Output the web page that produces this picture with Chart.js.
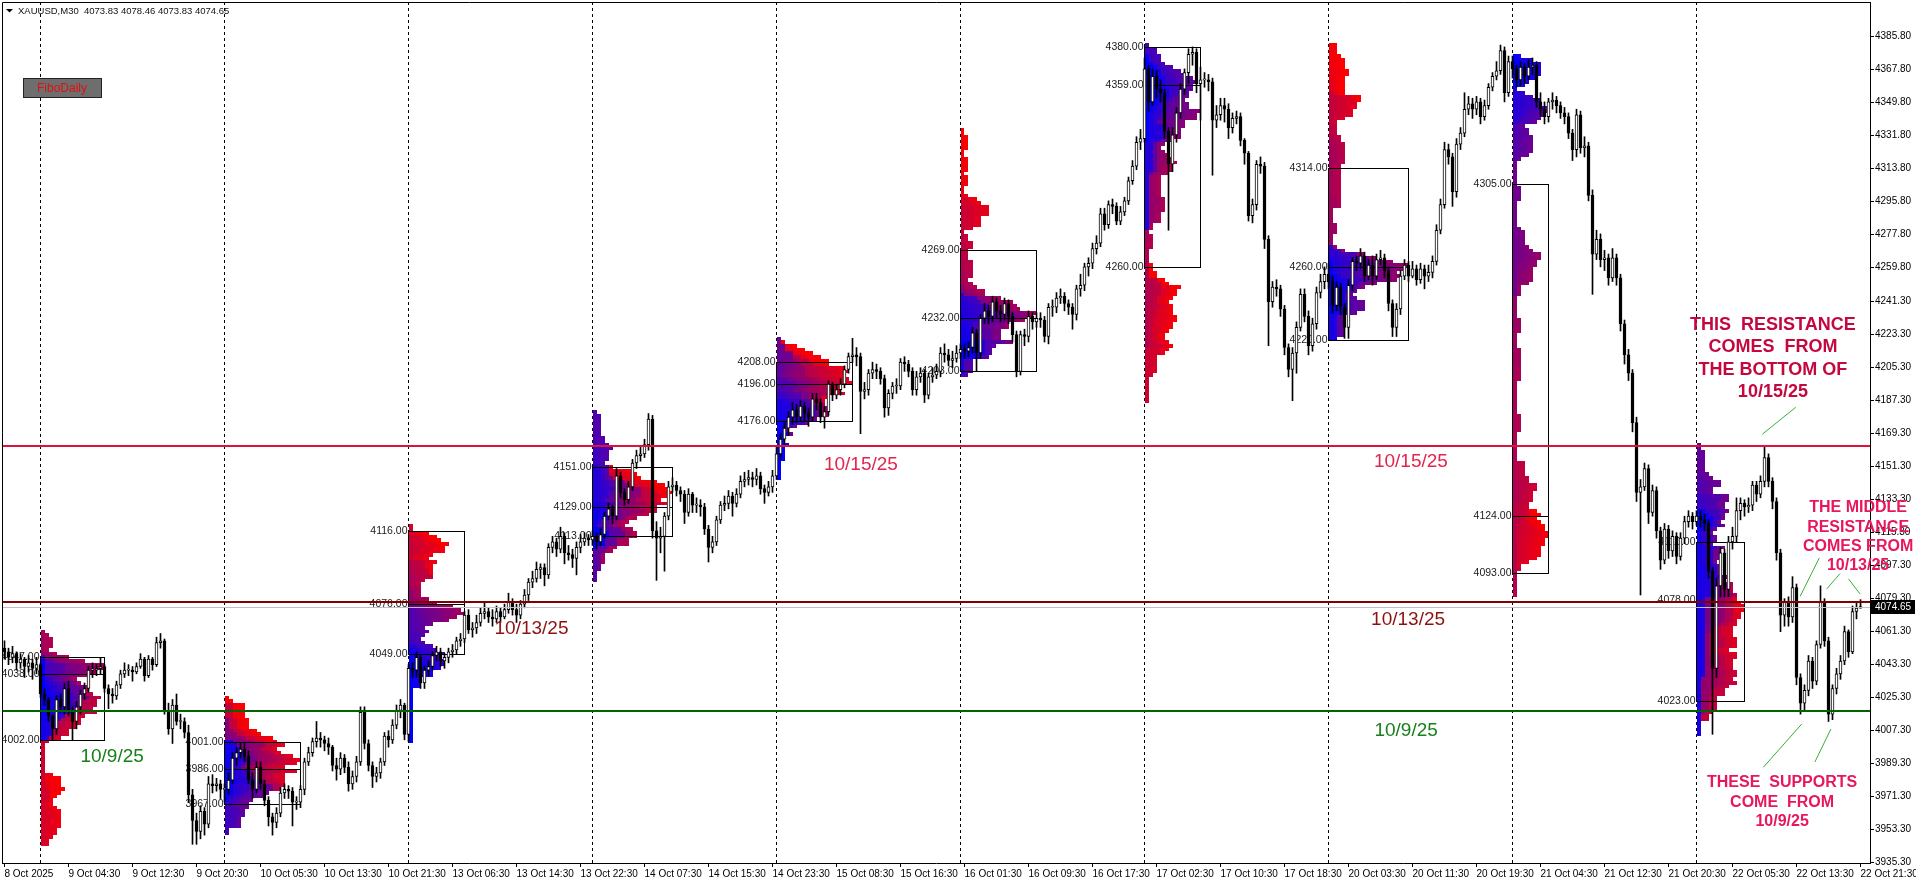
<!DOCTYPE html>
<html lang="en">
<head>
<meta charset="UTF-8">
<title>XAUUSD,M30</title>
<script src="https://cdn.jsdelivr.net/npm/chart.js"></script>
<style>
  html, body { margin: 0; padding: 0; background: #fff; }
  #wrap { width: 1916px; height: 885px; }
</style>
</head>
<body>
<div id="wrap"><canvas id="chart" width="1916" height="885"></canvas></div>
<script>
// ---- M30 candles (bar 0 = 8 Oct 20:30) ----
const firstOpen = 4052;
const closes = [
  // 8 Oct
  4050, 4047, 4049, 4044, 4046, 4042, 4044, 4041, 4043,
  // 9 Oct
  4027, 4024, 4015, 4008, 4024, 4020, 4030, 4018, 4012, 4020, 4027, 4030, 4040, 4040, 4041, 4042,
  4030, 4027, 4026, 4032, 4038, 4040, 4040, 4039, 4042, 4046, 4037, 4046, 4043, 4055, 4056, 4018,
  4008, 4021, 4012, 4012, 4006, 3972, 3958, 3952, 3963, 3956, 3978, 3977, 3978, 3975,
  // 10 Oct
  3975, 3980, 3992, 3995, 3997, 3993, 3980, 3975, 3987, 3978, 3969, 3960, 3957, 3962, 3973, 3975,
  3974, 3968, 3968, 3975, 3990, 3995, 4001, 4003, 4002, 4000, 3998, 3988, 3986, 3992, 3987, 3978,
  3982, 3990, 4017, 4000, 3988, 3982, 3984, 3990, 4004, 4002, 4010, 4018, 4021, 4005,
  // 13 Oct
  4041, 4040, 4047, 4033, 4040, 4042, 4048, 4050, 4045, 4047, 4050, 4051, 4056, 4057, 4070, 4062,
  4063, 4066, 4071, 4072, 4069, 4068, 4072, 4069, 4073, 4077, 4073, 4070, 4076, 4081, 4088, 4090,
  4095, 4096, 4092, 4107, 4110, 4106, 4113, 4104, 4103, 4101, 4107, 4110, 4112, 4111,
  // 14 Oct
  4113, 4110, 4114, 4124, 4128, 4124, 4146, 4137, 4133, 4140, 4153, 4157, 4158, 4163, 4177, 4116,
  4112, 4113, 4124, 4140, 4141, 4138, 4136, 4126, 4136, 4130, 4130, 4129, 4117, 4107, 4110, 4122,
  4130, 4131, 4135, 4131, 4136, 4143, 4144, 4145, 4144, 4146, 4139, 4137, 4140, 4146,
  // 15 Oct
  4158, 4166, 4172, 4178, 4182, 4178, 4184, 4180, 4178, 4188, 4186, 4178, 4181, 4196, 4190, 4193,
  4196, 4204, 4211, 4212, 4211, 4192, 4193, 4202, 4204, 4203, 4199, 4183, 4191, 4195, 4195, 4208,
  4207, 4203, 4193, 4200, 4202, 4190, 4200, 4201, 4203, 4213, 4212, 4209, 4210, 4213,
  // 16 Oct
  4215, 4214, 4216, 4224, 4213, 4232, 4236, 4233, 4241, 4236, 4234, 4240, 4233, 4223, 4203, 4223,
  4222, 4233, 4230, 4232, 4231, 4222, 4238, 4238, 4243, 4244, 4240, 4238, 4234, 4248, 4250, 4260,
  4262, 4270, 4273, 4289, 4283, 4294, 4293, 4285, 4290, 4296, 4307, 4315, 4328, 4330,
  // 17 Oct
  4368, 4350, 4364, 4357, 4355, 4334, 4316, 4332, 4344, 4357, 4366, 4376, 4377, 4360, 4362, 4362,
  4361, 4340, 4343, 4348, 4346, 4336, 4341, 4342, 4329, 4322, 4288, 4294, 4316, 4315, 4275, 4241,
  4249, 4248, 4237, 4216, 4204, 4213, 4227, 4245, 4233, 4217, 4229, 4246, 4252, 4256,
  // 20 Oct
  4252, 4239, 4249, 4238, 4227, 4250, 4263, 4262, 4266, 4255, 4261, 4255, 4264, 4265, 4258, 4240,
  4227, 4237, 4255, 4261, 4255, 4259, 4253, 4259, 4255, 4257, 4263, 4280, 4294, 4324, 4320, 4301,
  4327, 4333, 4346, 4349, 4346, 4350, 4342, 4348, 4358, 4364, 4367, 4378, 4355, 4372,
  // 21 Oct
  4368, 4362, 4369, 4364, 4369, 4370, 4350, 4346, 4342, 4350, 4351, 4348, 4344, 4342, 4333, 4324,
  4343, 4325, 4326, 4299, 4267, 4275, 4264, 4265, 4254, 4265, 4254, 4229, 4212, 4202, 4175, 4137,
  4140, 4150, 4126, 4138, 4116, 4100, 4117, 4105, 4113, 4102, 4112, 4121, 4124, 4121,
  // 22 Oct
  4124, 4122, 4120, 4094, 4041, 4086, 4104, 4084, 4110, 4113, 4127, 4131, 4129, 4130, 4141, 4136,
  4143, 4156, 4143, 4132, 4104, 4070, 4077, 4069, 4085, 4036, 4022, 4029, 4045, 4034, 4054, 4077,
  4056, 4016, 4030, 4038, 4045, 4061, 4050, 4072, 4073.83, 4074.65
];
const highs = [
  4056, 4052, 4053, 4050, 4049, 4047, 4048, 4046, 4047,
  4044, 4030, 4025, 4016, 4026, 4027, 4033, 4034, 4020, 4023, 4029, 4033, 4042, 4044, 4043, 4047,
  4043, 4032, 4030, 4034, 4040, 4044, 4043, 4042, 4044, 4049, 4047, 4048, 4047, 4058, 4060, 4057,
  4022, 4024, 4027, 4016, 4014, 4010, 3975, 3962, 3966, 3965, 3982, 3983, 3981, 3980,
  3978, 3984, 3995, 3998, 4000, 4000, 3996, 3984, 3990, 3990, 3980, 3971, 3962, 3965, 3976, 3978,
  3977, 3976, 3971, 3977, 3992, 3998, 4003, 4012, 4006, 4004, 4003, 3999, 3992, 3995, 3994, 3990,
  3985, 3993, 4020, 4020, 4002, 3990, 3987, 3992, 4006, 4007, 4013, 4021, 4024, 4022,
  4043, 4044, 4050, 4048, 4042, 4045, 4050, 4053, 4052, 4049, 4052, 4054, 4058, 4060, 4072, 4073,
  4066, 4070, 4074, 4077, 4074, 4073, 4075, 4074, 4076, 4082, 4079, 4076, 4078, 4084, 4090, 4094,
  4099, 4098, 4098, 4109, 4113, 4112, 4118, 4115, 4108, 4106, 4110, 4114, 4115, 4114,
  4116, 4115, 4117, 4126, 4131, 4130, 4150, 4148, 4139, 4143, 4155, 4160, 4162, 4166, 4180, 4179,
  4121, 4118, 4126, 4143, 4145, 4143, 4140, 4138, 4139, 4137, 4134, 4133, 4131, 4119, 4113, 4124,
  4132, 4135, 4138, 4137, 4139, 4146, 4148, 4149, 4148, 4150, 4148, 4141, 4143, 4149,
  4162, 4169, 4175, 4181, 4186, 4185, 4187, 4186, 4183, 4191, 4191, 4188, 4184, 4198, 4197, 4196,
  4199, 4206, 4213, 4221, 4216, 4213, 4197, 4204, 4208, 4207, 4205, 4201, 4193, 4197, 4199, 4210,
  4211, 4209, 4205, 4203, 4205, 4204, 4202, 4205, 4207, 4216, 4218, 4215, 4214, 4217,
  4218, 4218, 4219, 4227, 4226, 4234, 4240, 4239, 4244, 4243, 4239, 4243, 4242, 4235, 4225, 4225,
  4226, 4236, 4235, 4235, 4235, 4233, 4240, 4242, 4246, 4248, 4246, 4242, 4240, 4250, 4256, 4262,
  4265, 4273, 4277, 4292, 4292, 4296, 4297, 4295, 4293, 4298, 4309, 4318, 4331, 4335,
  4374, 4370, 4368, 4367, 4362, 4357, 4336, 4336, 4347, 4360, 4368, 4379, 4380, 4379, 4369, 4366,
  4365, 4363, 4348, 4352, 4352, 4349, 4344, 4345, 4344, 4330, 4323, 4297, 4318, 4320, 4317, 4277,
  4252, 4253, 4250, 4239, 4218, 4216, 4230, 4248, 4248, 4236, 4232, 4249, 4256, 4260,
  4262, 4255, 4252, 4251, 4240, 4253, 4265, 4266, 4270, 4268, 4264, 4266, 4267, 4269, 4267, 4260,
  4242, 4240, 4258, 4264, 4263, 4263, 4261, 4262, 4261, 4261, 4266, 4283, 4297, 4328, 4327, 4322,
  4330, 4336, 4355, 4353, 4352, 4353, 4352, 4351, 4360, 4366, 4372, 4381, 4380, 4375,
  4375, 4370, 4372, 4371, 4373, 4374, 4372, 4355, 4350, 4352, 4355, 4353, 4350, 4347, 4344, 4335,
  4346, 4345, 4331, 4328, 4302, 4280, 4278, 4269, 4267, 4270, 4267, 4256, 4231, 4215, 4204, 4178,
  4144, 4153, 4152, 4141, 4140, 4118, 4120, 4119, 4116, 4115, 4115, 4124, 4127, 4126,
  4127, 4127, 4125, 4122, 4096, 4090, 4107, 4106, 4113, 4118, 4134, 4134, 4133, 4134, 4143, 4143,
  4146, 4162, 4158, 4145, 4134, 4106, 4079, 4080, 4091, 4087, 4038, 4032, 4048, 4047, 4056, 4086,
  4079, 4058, 4032, 4041, 4048, 4064, 4062, 4075, 4077, 4078.46
];
const lows = [
  4046, 4043, 4044, 4040, 4041, 4036, 4039, 4035, 4038,
  4025, 4021, 4012, 4002, 4005, 4017, 4016, 4015, 4002, 4008, 4016, 4024, 4028, 4036, 4037, 4038,
  4028, 4019, 4022, 4024, 4030, 4036, 4037, 4034, 4038, 4041, 4034, 4036, 4040, 4042, 4052, 4016,
  4005, 4000, 4010, 4008, 4003, 3968, 3945, 3945, 3948, 3950, 3954, 3973, 3974, 3970,
  3968, 3972, 3978, 3988, 3992, 3990, 3978, 3970, 3973, 3975, 3966, 3955, 3950, 3954, 3960, 3970,
  3970, 3955, 3964, 3965, 3972, 3988, 3993, 3998, 3998, 3996, 3994, 3985, 3980, 3983, 3984, 3974,
  3975, 3979, 3988, 3997, 3985, 3976, 3979, 3981, 3988, 3998, 4000, 4008, 4014, 4002,
  4001, 4036, 4036, 4030, 4030, 4037, 4040, 4045, 4042, 4041, 4044, 4047, 4049, 4053, 4055, 4060,
  4058, 4060, 4064, 4068, 4066, 4064, 4066, 4066, 4068, 4071, 4070, 4066, 4068, 4074, 4078, 4085,
  4088, 4090, 4086, 4090, 4104, 4102, 4104, 4098, 4100, 4096, 4092, 4104, 4108, 4108,
  4108, 4106, 4108, 4112, 4122, 4120, 4122, 4134, 4130, 4131, 4138, 4150, 4154, 4156, 4160, 4112,
  4089, 4104, 4094, 4122, 4137, 4135, 4132, 4120, 4124, 4126, 4126, 4124, 4114, 4099, 4104, 4108,
  4120, 4127, 4128, 4124, 4129, 4134, 4140, 4141, 4140, 4141, 4136, 4131, 4135, 4137,
  4144, 4155, 4163, 4168, 4174, 4175, 4176, 4176, 4173, 4176, 4182, 4175, 4172, 4179, 4187, 4188,
  4190, 4194, 4202, 4208, 4206, 4169, 4188, 4190, 4199, 4199, 4196, 4178, 4179, 4188, 4191, 4193,
  4203, 4200, 4190, 4190, 4197, 4186, 4188, 4197, 4199, 4200, 4208, 4206, 4205, 4208,
  4210, 4210, 4211, 4213, 4203, 4210, 4229, 4229, 4230, 4232, 4230, 4231, 4229, 4219, 4200, 4201,
  4217, 4219, 4226, 4227, 4227, 4219, 4218, 4233, 4235, 4240, 4236, 4234, 4226, 4231, 4244, 4247,
  4255, 4259, 4267, 4271, 4280, 4281, 4289, 4283, 4283, 4288, 4294, 4305, 4313, 4324,
  4328, 4345, 4348, 4352, 4350, 4330, 4280, 4312, 4328, 4341, 4354, 4360, 4370, 4355, 4340, 4358,
  4356, 4310, 4336, 4340, 4339, 4330, 4333, 4338, 4326, 4316, 4285, 4284, 4291, 4311, 4270, 4217,
  4238, 4244, 4233, 4212, 4200, 4187, 4202, 4225, 4230, 4212, 4214, 4226, 4243, 4248,
  4248, 4235, 4236, 4234, 4221, 4221, 4247, 4258, 4259, 4252, 4253, 4250, 4253, 4261, 4254, 4236,
  4222, 4222, 4234, 4253, 4252, 4254, 4250, 4251, 4248, 4252, 4254, 4261, 4278, 4292, 4316, 4293,
  4298, 4324, 4331, 4343, 4341, 4343, 4338, 4340, 4346, 4356, 4362, 4365, 4350, 4353,
  4363, 4358, 4359, 4360, 4362, 4365, 4347, 4342, 4338, 4339, 4346, 4344, 4341, 4338, 4330, 4318,
  4320, 4322, 4320, 4296, 4245, 4264, 4260, 4258, 4250, 4252, 4250, 4225, 4207, 4198, 4170, 4132,
  4081, 4138, 4120, 4124, 4112, 4095, 4098, 4101, 4102, 4098, 4100, 4109, 4118, 4117,
  4119, 4118, 4116, 4090, 4005, 4036, 4080, 4080, 4080, 4106, 4110, 4122, 4124, 4126, 4127, 4132,
  4134, 4140, 4140, 4128, 4100, 4061, 4064, 4064, 4066, 4032, 4016, 4018, 4026, 4030, 4032, 4052,
  4053, 4012, 4013, 4027, 4035, 4043, 4047, 4049, 4068, 4073.83
];

// time axis labels, one every 16 bars
const xTickLabels = [
  '8 Oct 2025', '9 Oct 04:30', '9 Oct 12:30', '9 Oct 20:30', '10 Oct 05:30', '10 Oct 13:30',
  '10 Oct 21:30', '13 Oct 06:30', '13 Oct 14:30', '13 Oct 22:30', '14 Oct 07:30', '14 Oct 15:30',
  '14 Oct 23:30', '15 Oct 08:30', '15 Oct 16:30', '16 Oct 01:30', '16 Oct 09:30', '16 Oct 17:30',
  '17 Oct 02:30', '17 Oct 10:30', '17 Oct 18:30', '20 Oct 03:30', '20 Oct 11:30', '20 Oct 19:30',
  '21 Oct 04:30', '21 Oct 12:30', '21 Oct 20:30', '22 Oct 05:30', '22 Oct 13:30', '22 Oct 21:30'
];
const xTickStep = 16;
const yTickValues = [
  4385.8, 4367.8, 4349.8, 4331.8, 4313.8, 4295.8, 4277.8, 4259.8, 4241.3, 4223.3, 4205.3, 4187.3,
  4169.3, 4151.3, 4133.3, 4115.3, 4097.3, 4079.3, 4061.3, 4043.3, 4025.3, 4007.3, 3989.3, 3971.3,
  3953.3, 3935.3
];

// daily market profiles: first bar of each session and its value area
const dayStarts = [9, 55, 101, 147, 193, 239, 285, 331, 377, 423];
const vah = [4047, 4001, 4116, 4151, 4208, 4269, 4380, 4314, 4305, 4110];
const poc = [4038, 3986, 4076, 4129, 4196, 4232, 4359, 4260, 4124, 4078];
const val = [4002, 3967, 4049, 4113, 4176, 4203, 4260, 4220, 4093, 4023];
const rowStep = 2;

// horizontal levels drawn by the author
const levelPrices = [4162.3, 4077, 4017.9];
const levelColors = ['#dc143c', '#800000', '#006400'];

const opens = closes.map((c, i) => i === 0 ? firstOpen : closes[i - 1]);
const last = closes.length - 1;
const bid = closes[last];

// annotations, in bar / price units
const dateNotes = [
  { text: '10/9/25', bar: 26.9, price: 3992.6, color: '#17801a' },
  { text: '10/13/25', bar: 131.75, price: 4062.4, color: '#8b1212' },
  { text: '10/15/25', bar: 214.1, price: 4152.2, color: '#e3244d' },
  { text: '10/15/25', bar: 351.6, price: 4153.6, color: '#e3244d' },
  { text: '10/13/25', bar: 350.9, price: 4067.4, color: '#8b1212' },
  { text: '10/9/25', bar: 350.4, price: 4006.8, color: '#17801a' }
];
const noteBlocks = [
  { lines: ['THIS  RESISTANCE', 'COMES  FROM', 'THE BOTTOM OF', '10/15/25'], bar: 442.1, price: 4228.3, size: 18, step: 22.3, color: '#c4083f' },
  { lines: ['THE MIDDLE', 'RESISTANCE', 'COMES FROM', '10/13/25'], bar: 463.4, price: 4128.5, size: 16, step: 19.3, color: '#e8175d' },
  { lines: ['THESE  SUPPORTS', 'COME  FROM', '10/9/25'], bar: 444.4, price: 3978.4, size: 16, step: 19.3, color: '#e8175d' }
];
const pointerLines = [
  [447.8, 4183.4, 439.45, 4168.7],
  [453.7, 4101.2, 448.9, 4080.2],
  [458.9, 4092.7, 455.55, 4084.3],
  [461.0, 4089.8, 463.9, 4081.5],
  [449.3, 4010.6, 439.7, 3987.0],
  [456.6, 4007.9, 452.6, 3989.9]
];

const FONT = '"Liberation Sans", Arial, sans-serif';

const background = {
  id: 'background',
  beforeDraw(chart) {
    const ctx = chart.ctx;
    ctx.save();
    ctx.fillStyle = '#ffffff';
    ctx.fillRect(0, 0, chart.width, chart.height);
    ctx.restore();
  }
};

// profiles, value-area boxes, session separators (under the candles)
const profiles = {
  id: 'profiles',
  beforeDatasetsDraw(chart) {
    const ctx = chart.ctx, xs = chart.scales.x, ys = chart.scales.y, a = chart.chartArea;
    ctx.save();
    ctx.beginPath();
    ctx.rect(a.left, a.top, a.right - a.left, a.bottom - a.top);
    ctx.clip();

    const widths = [];
    dayStarts.forEach((s, d) => {
      const e = d + 1 < dayStarts.length ? dayStarts[d + 1] : closes.length;
      const counts = {};
      let widest = 0;
      for (let i = s; i < e; i++) {
        const t = (i - s) / 45;
        ctx.fillStyle = `rgb(${Math.round(255 * t)},0,${Math.round(255 * (1 - t))})`;
        const r0 = Math.floor(lows[i] / rowStep), r1 = Math.floor(highs[i] / rowStep);
        for (let r = r0; r <= r1; r++) {
          const k = counts[r] || 0;
          counts[r] = k + 1;
          if (k + 1 > widest) widest = k + 1;
          const x0 = Math.round(xs.getPixelForValue(s + k));
          const x1 = Math.round(xs.getPixelForValue(s + k + 1));
          const y0 = Math.round(ys.getPixelForValue((r + 1) * rowStep));
          const y1 = Math.round(ys.getPixelForValue(r * rowStep));
          ctx.fillRect(x0, y0, x1 - x0, y1 - y0);
        }
      }
      widths.push(widest);
    });

    // session separators (xor-like so they show over the profiles)
    ctx.save();
    ctx.globalCompositeOperation = 'difference';
    ctx.strokeStyle = '#ffffff';
    ctx.lineWidth = 1;
    ctx.setLineDash([3, 3]);
    dayStarts.forEach(s => {
      const x = Math.floor(xs.getPixelForValue(s)) + 0.5;
      ctx.beginPath();
      ctx.moveTo(x, a.top);
      ctx.lineTo(x, a.bottom);
      ctx.stroke();
    });
    ctx.restore();

    // value area boxes, POC line, labels
    ctx.strokeStyle = '#000';
    ctx.lineWidth = 1;
    ctx.font = '10.5px ' + FONT;
    ctx.textAlign = 'right';
    ctx.textBaseline = 'middle';
    ctx.fillStyle = '#1a1a1a';
    dayStarts.forEach((s, d) => {
      const xL = Math.floor(xs.getPixelForValue(s)) + 0.5;
      const xR = Math.floor(xs.getPixelForValue(s + widths[d])) + 0.5;
      const yT = Math.round(ys.getPixelForValue(vah[d])) + 0.5;
      const yB = Math.round(ys.getPixelForValue(val[d])) + 0.5;
      const yP = Math.round(ys.getPixelForValue(poc[d])) + 0.5;
      ctx.strokeRect(xL, yT, xR - xL, yB - yT);
      ctx.beginPath();
      ctx.moveTo(xL, yP);
      ctx.lineTo(xR, yP);
      ctx.stroke();
      [vah[d], poc[d], val[d]].forEach(v => ctx.fillText(v.toFixed(2), xL - 1, ys.getPixelForValue(v)));
    });
    ctx.restore();
  }
};

// levels, notes, header, price tag
const overlay = {
  id: 'overlay',
  afterDraw(chart) {
    const ctx = chart.ctx, xs = chart.scales.x, ys = chart.scales.y, a = chart.chartArea;
    ctx.save();

    ctx.save();
    ctx.beginPath();
    ctx.rect(a.left, a.top, a.right - a.left, a.bottom - a.top);
    ctx.clip();
    // bid line
    ctx.strokeStyle = '#c0c0c0';
    ctx.lineWidth = 1;
    let y = Math.round(ys.getPixelForValue(bid)) + 0.5;
    ctx.beginPath(); ctx.moveTo(a.left, y); ctx.lineTo(a.right, y); ctx.stroke();
    // levels
    ctx.lineWidth = 2;
    levelPrices.forEach((p, k) => {
      const yy = Math.round(ys.getPixelForValue(p));
      ctx.strokeStyle = levelColors[k];
      ctx.beginPath(); ctx.moveTo(a.left, yy); ctx.lineTo(a.right, yy); ctx.stroke();
    });
    ctx.restore();

    // frame (left and top)
    ctx.strokeStyle = '#000';
    ctx.lineWidth = 1;
    ctx.beginPath();
    ctx.moveTo(a.left + 0.5, a.bottom);
    ctx.lineTo(a.left + 0.5, a.top + 0.5);
    ctx.lineTo(a.right, a.top + 0.5);
    ctx.stroke();

    // date notes
    ctx.textAlign = 'center';
    ctx.textBaseline = 'middle';
    ctx.font = '19px ' + FONT;
    dateNotes.forEach(n => {
      ctx.fillStyle = n.color;
      ctx.fillText(n.text, xs.getPixelForValue(n.bar), ys.getPixelForValue(n.price));
    });

    // pointer lines
    ctx.strokeStyle = '#33b233';
    ctx.lineWidth = 1;
    pointerLines.forEach(([b0, p0, b1, p1]) => {
      ctx.beginPath();
      ctx.moveTo(xs.getPixelForValue(b0), ys.getPixelForValue(p0));
      ctx.lineTo(xs.getPixelForValue(b1), ys.getPixelForValue(p1));
      ctx.stroke();
    });

    // comment blocks
    noteBlocks.forEach(b => {
      ctx.font = `bold ${b.size}px ${FONT}`;
      ctx.fillStyle = b.color;
      const x = xs.getPixelForValue(b.bar);
      const y0 = ys.getPixelForValue(b.price);
      b.lines.forEach((t, k) => ctx.fillText(t, x, y0 + k * b.step));
    });

    // header
    ctx.fillStyle = '#000';
    ctx.beginPath();
    ctx.moveTo(6, 9); ctx.lineTo(13, 9); ctx.lineTo(9.5, 12.5); ctx.closePath();
    ctx.fill();
    ctx.font = '9.5px ' + FONT;
    ctx.textAlign = 'left';
    ctx.fillStyle = '#111';
    ctx.fillText(`XAUUSD,M30  ${opens[last].toFixed(2)} ${highs[last].toFixed(2)} ${lows[last].toFixed(2)} ${closes[last].toFixed(2)}`, 18, 11);

    // FiboDaily button
    ctx.fillStyle = '#6e6e6e';
    ctx.fillRect(23, 78, 79, 20);
    ctx.strokeStyle = '#222';
    ctx.strokeRect(23.5, 78.5, 78, 19);
    ctx.font = '12px ' + FONT;
    ctx.textAlign = 'center';
    ctx.fillStyle = '#e01010';
    ctx.fillText('FiboDaily', 62, 88.5);

    // current price tag
    y = Math.round(ys.getPixelForValue(bid));
    ctx.fillStyle = '#000';
    ctx.fillRect(a.right + 1, y - 7, 44, 14);
    ctx.fillStyle = '#fff';
    ctx.font = '10px ' + FONT;
    ctx.textAlign = 'left';
    ctx.fillText(bid.toFixed(2), a.right + 5, y);

    ctx.restore();
  }
};

new Chart(document.getElementById('chart'), {
  type: 'bar',
  data: {
    datasets: [
      {
        label: 'body',
        data: closes.map((c, i) => ({ x: i, y: [opens[i], c] })),
        backgroundColor: closes.map((c, i) => c >= opens[i] ? '#ffffff' : '#000000'),
        borderColor: '#000',
        borderWidth: 1,
        borderSkipped: false,
        barThickness: 3,
        minBarLength: 1,
        grouped: false,
        order: 0
      },
      {
        label: 'wick',
        data: closes.map((c, i) => ({ x: i, y: [lows[i], highs[i]] })),
        backgroundColor: '#000',
        borderWidth: 0,
        barThickness: 1,
        grouped: false,
        order: 1
      }
    ]
  },
  options: {
    responsive: false,
    animation: false,
    events: [],
    layout: { padding: { left: 2, top: 2, right: 0, bottom: 0 } },
    plugins: { legend: { display: false }, tooltip: { enabled: false } },
    scales: {
      x: {
        type: 'linear',
        min: -0.625,
        max: 466.375,
        offset: false,
        afterBuildTicks: s => { s.ticks = xTickLabels.map((_, k) => ({ value: k * xTickStep })); },
        afterFit: s => { s.height = 22; s.paddingLeft = 0; s.paddingRight = 0; },
        ticks: {
          autoSkip: false, maxRotation: 0, minRotation: 0, align: 'start', padding: 1,
          color: '#000', font: { family: FONT, size: 10 },
          callback: (v, k) => xTickLabels[k]
        },
        grid: { offset: false, drawOnChartArea: false, drawTicks: true, tickLength: 4, color: '#000' },
        border: { display: true, color: '#000', width: 1 }
      },
      y: {
        type: 'linear',
        position: 'right',
        min: 3934.8,
        max: 4404.5,
        afterBuildTicks: s => { s.ticks = yTickValues.map(v => ({ value: v })); },
        afterFit: s => { s.width = 46; s.paddingTop = 0; s.paddingBottom = 0; },
        ticks: {
          autoSkip: false, padding: 1, color: '#000', font: { family: FONT, size: 10 },
          callback: v => Number(v).toFixed(2)
        },
        grid: { drawOnChartArea: false, drawTicks: true, tickLength: 4, color: '#000' },
        border: { display: true, color: '#000', width: 1 }
      }
    }
  },
  plugins: [background, profiles, overlay]
});
</script>
</body>
</html>
